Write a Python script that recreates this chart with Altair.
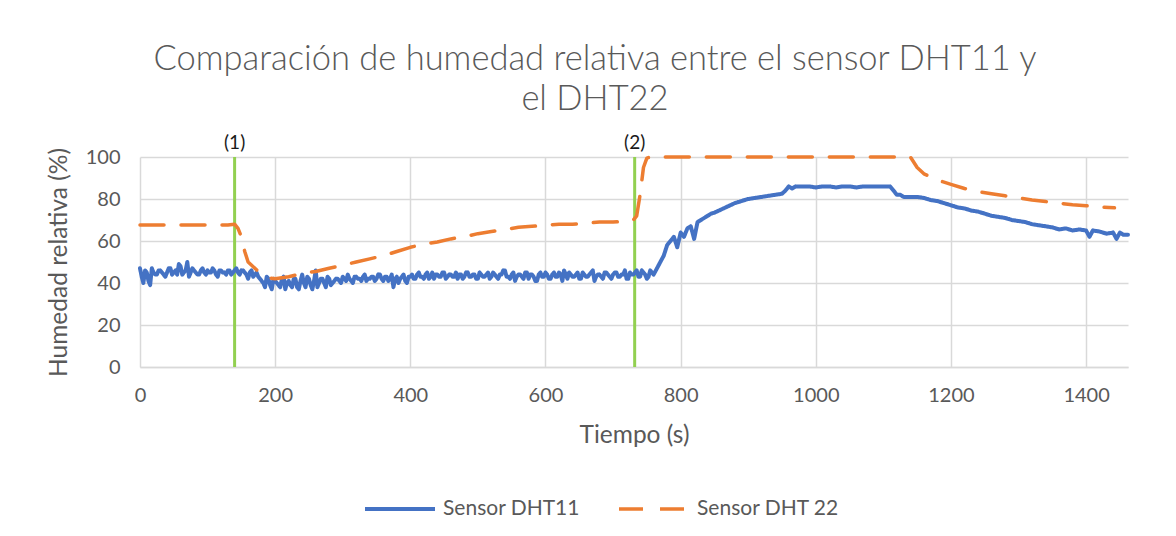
import altair as alt
import pandas as pd

# DHT11 series (time s, relative humidity %)
t11 = list(range(0, 765, 5)) + [765, 770, 775, 780, 785, 790, 795, 800, 805, 810, 815, 820, 825, 830, 835, 840, 845, 850, 860, 870, 880, 890, 900, 910, 920, 930, 940, 950, 955, 960, 965, 970, 980, 990, 1000, 1010, 1020, 1030, 1040, 1050, 1060, 1070, 1080, 1090, 1100, 1110, 1115, 1120, 1125, 1130, 1140, 1150, 1160, 1170, 1180, 1190, 1200, 1210, 1220, 1230, 1240, 1250, 1260, 1270, 1280, 1290, 1300, 1310, 1320, 1330, 1340, 1350, 1360, 1370, 1380, 1390, 1400, 1405, 1410, 1420, 1430, 1440, 1445, 1450, 1455, 1462]
h11 = [47, 40, 45, 39, 45, 44, 46, 44, 45, 47, 45, 44, 48, 45, 50, 45, 46, 44, 46, 45,
       46, 45, 46, 43, 46, 45, 46, 44, 46, 45, 46, 45, 42, 46, 44, 43, 41, 38, 42, 37,
       41, 39, 42, 37, 41, 38, 42, 37, 44, 38, 42, 37, 46, 40, 42, 38, 42, 40, 42, 41,
       43, 41, 42, 40, 43, 42, 43, 41, 42, 43, 42, 44, 41, 43, 42, 38, 43, 42, 44, 40,
       43, 42, 44, 43, 42, 45, 43, 42, 44, 43, 45, 43, 44, 43, 42, 44, 43, 45, 43, 44,
       42, 44, 43, 45, 43, 44, 42, 44, 46, 43, 44, 41, 44, 43, 45, 42, 44, 41, 44, 43,
       45, 42, 44, 43, 45, 41, 44, 45, 43, 44, 42, 45, 43, 44, 46, 43, 44, 42, 45, 43,
       44, 45, 43, 44, 42, 45, 44, 46, 43, 45, 42, 46, 44,
       47, 50, 53, 58, 60, 62, 57, 64, 62, 66, 67, 61, 69, 70, 71, 72, 73, 73.5, 75, 76.5,
       78, 79, 80, 80.5, 81, 81.5, 82, 82.5, 84, 86, 85, 86, 86, 86, 85.5, 86, 86, 85.5,
       86, 86, 85.5, 86, 86, 86, 86, 86, 84, 82, 82, 81, 81, 81, 80.5, 79.5, 79, 78, 77,
       76, 75.5, 74.5, 74, 73, 72, 71.5, 71, 70, 69.5, 69, 68, 67.5, 67, 66.5, 65.5, 66,
       65, 65.5, 65, 62, 65, 64.5, 63.5, 64, 61, 64, 63, 63]

# DHT11 in-between readings (t = 2.5, 7.5, ... 757.5)
t11b = [2.5 + 5 * k for k in range(152)]
h11b = [43, 46, 41, 47, 44, 46, 45, 43, 47, 44, 46, 49, 44, 46, 43, 47, 45, 44, 47, 44,
        45, 47, 44, 46, 45, 44, 46, 45, 47, 44, 46, 44,
        45, 43, 45, 42,
        40, 43, 39, 42, 40, 38, 43, 40, 39, 42, 38, 41, 40, 43, 39, 41, 38, 42, 40, 43,
        39, 41, 42, 40,
        42, 44, 41, 43, 42, 41, 44, 42, 43, 41, 44, 42, 43, 41, 44, 42, 40, 43, 41, 43,
        44, 42, 45, 43, 44, 42, 45, 44, 43, 45, 42, 44, 43, 45, 44, 42, 45, 43, 44, 42,
        45, 43, 44, 42, 45, 43, 44, 46, 43, 42, 45, 43, 44, 42, 45, 44, 43, 41, 45, 43,
        44, 42, 45, 43, 44, 46, 42, 44, 43, 45, 42, 44, 43, 45, 41, 44, 43, 45, 44, 42,
        45, 43, 44, 46, 42, 44, 45, 43, 46, 44, 43, 45]

# DHT22 series
t22 = [0, 130, 140, 145, 150, 155, 160, 170, 180, 190, 200, 220, 240, 260, 280, 300, 320,
       340, 360, 380, 400, 420, 440, 460, 480, 500, 520, 540, 560, 580, 600, 620, 640, 660,
       680, 700, 720, 730, 735, 740, 745, 750, 755, 900, 1000, 1100, 1140, 1150, 1160, 1180,
       1200, 1220, 1240, 1260, 1280, 1300, 1320, 1340, 1360, 1380, 1400, 1420, 1442]
h22 = [67.6, 67.6, 68, 66, 62, 55, 50, 47, 44, 42.5, 42, 43, 44.5, 45.5, 47, 48.5, 50,
       51.5, 53, 55, 57, 58.5, 59.5, 61, 62, 63.5, 64.5, 65.5, 66.5, 67, 67.5, 68, 68, 68.5,
       69, 69, 69.5, 70, 72, 82, 95, 99.5, 100, 100, 100, 100, 100, 95, 92, 89,
       87, 85, 83.5, 82.5, 81.5, 80.5, 79.5, 78.8, 78, 77.3, 76.8, 76.2, 75.8]

series_names = ["Sensor DHT11", "Sensor DHT 22"]
event_times = [140, 732]
event_labels = ["(1)", "(2)"]

df = pd.concat([
    pd.DataFrame({"t": t11 + t11b, "h": h11 + h11b, "serie": series_names[0]}),
    pd.DataFrame({"t": t22, "h": h22, "serie": series_names[1]}),
])
ev = pd.DataFrame({"t": event_times, "lab": event_labels, "top": [100, 100], "bot": [0, 0]})

gray = "#595959"
font = "Lato"

xs = alt.Scale(domain=[0, 1462], nice=False, zero=False)
ys = alt.Scale(domain=[0, 100], nice=False)

leg = alt.Legend(title=None, orient="none", legendX=223, legendY=315,
                 direction="horizontal", symbolType="stroke",
                 symbolSize=4900, symbolStrokeWidth=4,
                 labelFontSize=21, labelFont=font, labelColor=gray, labelLimit=400,
                 columnPadding=32, labelOffset=6)

lines = alt.Chart(df).mark_line(strokeCap="round", strokeJoin="round").encode(
    x=alt.X("t:Q", scale=xs, title="Tiempo (s)",
            axis=alt.Axis(values=list(range(0, 1401, 200)), format="d", labelFlush=False)),
    y=alt.Y("h:Q", scale=ys, title="Humedad relativa (%)",
            axis=alt.Axis(values=list(range(0, 101, 20)), format="d")),
    color=alt.Color("serie:N", scale=alt.Scale(domain=series_names, range=["#4472C4", "#ED7D31"]),
                    legend=leg),
    strokeDash=alt.StrokeDash("serie:N", scale=alt.Scale(domain=series_names, range=[[1, 0], [24, 17]]),
                              legend=leg),
    strokeWidth=alt.StrokeWidth("serie:N", scale=alt.Scale(domain=series_names, range=[4, 3.5]), legend=None),
    order="t:Q",
)

rules = alt.Chart(ev).mark_rule(color="#92D050", strokeWidth=3).encode(
    x=alt.X("t:Q", scale=xs), y=alt.Y("bot:Q", scale=ys), y2="top:Q")

labels = alt.Chart(ev).mark_text(baseline="bottom", dy=-4, fontSize=19, font=font, color="#1a1a1a").encode(
    x=alt.X("t:Q", scale=xs), y=alt.Y("top:Q", scale=ys), text="lab:N")

chart = alt.layer(rules, lines, labels).properties(
    width=988, height=210,
    autosize=alt.AutoSizeParams(type="none"),
    padding={"left": 132, "top": 149, "right": 30, "bottom": 165},
    title=alt.Title(["Comparación de humedad relativa entre el sensor DHT11 y", "el DHT22"],
                    fontSize=34.5, font=font, fontWeight=300, color=gray, anchor="middle",
                    dx=-39, offset=17, lineHeight=40),
).configure_view(stroke=None).configure_axis(
    labelFont=font, titleFont=font, labelColor=gray, titleColor=gray,
    labelFontSize=20, titleFontSize=24.5, titleFontWeight="normal",
    gridColor="#D9D9D9", gridWidth=1.5, domainColor="#D9D9D9", domainWidth=1.5,
    ticks=False,
).configure_axisX(labelPadding=18, titlePadding=18, domain=True
).configure_axisY(labelPadding=20, titlePadding=14, domain=False)

chart.save("out.html", embed_options={"renderer": "svg", "actions": False})
